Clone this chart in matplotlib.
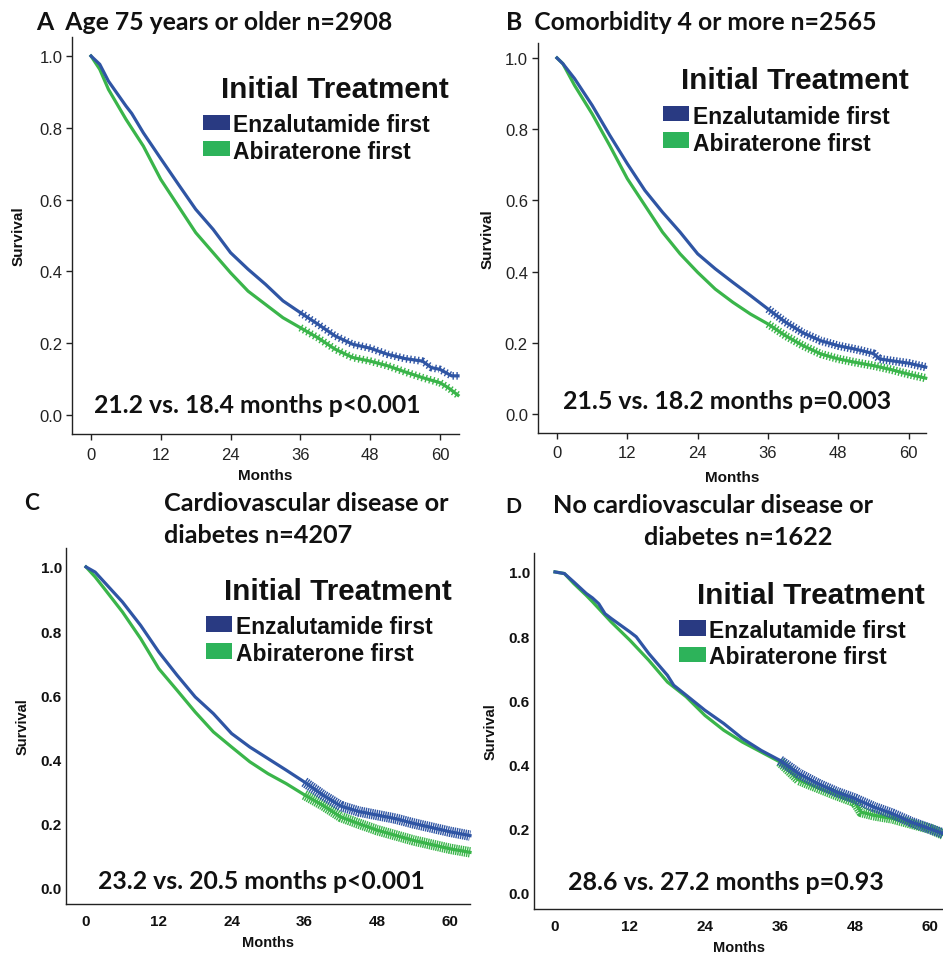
import matplotlib
matplotlib.use("Agg")
import matplotlib.pyplot as plt
from matplotlib.patches import Rectangle
import numpy as np

plt.rcParams["lines.scale_dashes"] = False

W, H, DPI = 943, 954, 100

# ---------------- data ----------------
series_labels = ["Enzalutamide first", "Abiraterone first"]
legend_title = "Initial Treatment"
x_ticks = [0, 12, 24, 36, 48, 60]
y_ticks = [0.0, 0.2, 0.4, 0.6, 0.8, 1.0]

a_enz_months = [0, 1.5, 3, 6, 7, 9, 12, 15, 18, 21, 24, 27, 30, 33, 36, 39, 42, 45, 48, 51, 54, 57, 58.5, 60, 62, 63.1]
a_enz_surv = [1.0, 0.977, 0.930, 0.861, 0.840, 0.786, 0.714, 0.643, 0.573, 0.517, 0.452, 0.406, 0.364, 0.318,
              0.285, 0.253, 0.220, 0.197, 0.186, 0.169, 0.157, 0.150, 0.132, 0.127, 0.109, 0.109]
a_abi_months = [0, 1.5, 3, 6, 9, 12, 15, 18, 21, 24, 27, 30, 33, 36, 39, 42, 45, 48, 51, 54, 57, 60, 61.5, 63.1]
a_abi_surv = [1.0, 0.963, 0.907, 0.824, 0.749, 0.656, 0.582, 0.508, 0.452, 0.396, 0.345, 0.308, 0.271, 0.243,
              0.215, 0.183, 0.160, 0.150, 0.137, 0.120, 0.104, 0.090, 0.075, 0.055]

b_enz_months = [0, 1, 3, 6, 9, 12, 15, 18, 21, 24, 27, 30, 33, 36, 39, 42, 45, 48, 51, 54, 55, 57, 60, 62.9]
b_enz_surv = [1.0, 0.984, 0.942, 0.867, 0.783, 0.703, 0.628, 0.567, 0.511, 0.450, 0.408, 0.370, 0.333, 0.295,
              0.258, 0.228, 0.206, 0.192, 0.182, 0.170, 0.155, 0.150, 0.143, 0.132]
b_abi_months = [0, 1, 3, 6, 9, 12, 15, 18, 21, 24, 27, 30, 33, 36, 39, 42, 45, 48, 51, 54, 57, 60, 62.9]
b_abi_surv = [1.0, 0.984, 0.923, 0.843, 0.754, 0.661, 0.586, 0.511, 0.450, 0.398, 0.351, 0.314, 0.281, 0.253,
              0.220, 0.192, 0.169, 0.155, 0.145, 0.136, 0.125, 0.112, 0.101]

c_enz_months = [0, 1.5, 3, 6, 9, 12, 15, 18, 21, 24, 27, 30, 33, 36, 39, 42, 45, 48, 51, 54, 57, 60, 63.3]
c_enz_surv = [1.0, 0.984, 0.953, 0.891, 0.818, 0.735, 0.663, 0.595, 0.543, 0.481, 0.439, 0.403, 0.367, 0.330,
              0.290, 0.255, 0.238, 0.227, 0.216, 0.201, 0.188, 0.175, 0.163]
c_abi_months = [0, 1.5, 3, 6, 9, 12, 15, 18, 21, 24, 27, 30, 33, 36, 39, 42, 45, 48, 51, 54, 57, 60, 63.3]
c_abi_surv = [1.0, 0.969, 0.933, 0.860, 0.777, 0.683, 0.616, 0.548, 0.486, 0.439, 0.393, 0.356, 0.325, 0.290,
              0.258, 0.221, 0.200, 0.180, 0.164, 0.148, 0.135, 0.122, 0.111]

d_enz_months = [0, 1.5, 3, 5, 6, 7, 8, 9, 12, 13, 15, 18, 19, 21, 24, 27, 30, 33, 36, 39, 42, 45, 48, 51, 54,
                57, 60, 62.1]
d_enz_surv = [1.0, 0.995, 0.969, 0.933, 0.919, 0.901, 0.870, 0.855, 0.813, 0.798, 0.746, 0.678, 0.647, 0.616,
              0.569, 0.528, 0.481, 0.444, 0.413, 0.372, 0.341, 0.315, 0.294, 0.268, 0.247, 0.221, 0.200, 0.185]
d_abi_months = [0, 1.5, 3, 5, 6, 7, 9, 12, 15, 18, 21, 24, 27, 30, 33, 36, 39, 42, 45, 48, 49, 51, 54, 57, 60, 62.1]
d_abi_surv = [1.0, 0.995, 0.964, 0.927, 0.907, 0.886, 0.844, 0.787, 0.725, 0.657, 0.611, 0.553, 0.507, 0.470,
              0.439, 0.408, 0.352, 0.328, 0.305, 0.283, 0.252, 0.242, 0.232, 0.216, 0.200, 0.182]

titles_a = ["A  Age 75 years or older n=2908"]
titles_b = ["B  Comorbidity 4 or more n=2565"]
titles_c = ["Cardiovascular disease or", "diabetes n=4207"]
titles_d = ["No cardiovascular disease or", "diabetes n=1622"]
annot = ["21.2 vs. 18.4 months p<0.001", "21.5 vs. 18.2 months p=0.003",
         "23.2 vs. 20.5 months p<0.001", "28.6 vs. 27.2 months p=0.93"]

# ---------------- style ----------------
BLUE_LINE, GREEN_LINE = "#2F55A4", "#3AB54A"
BLUE_PATCH, GREEN_PATCH = "#293A82", "#2DB35A"
CAL = ["Lato", "DejaVu Sans"]
ARIAL = ["Liberation Sans", "DejaVu Sans"]

fig = plt.figure(figsize=(W / DPI, H / DPI), dpi=DPI)
renderer = fig.canvas.get_renderer()


def fpos(x, y):
    return x / W, 1 - y / H


def fit_text(x, y, s, width, family, size=None, **kw):
    t = fig.text(*fpos(x, y), s, family=family, weight="bold", fontsize=20,
                 ha="left", va="baseline", color="#111111", **kw)
    if size is None:
        w = t.get_window_extent(renderer=renderer).width
        size = 20 * width / w
    t.set_fontsize(size)
    return size


panels = [
    dict(box=(72, 38, 459, 435), xlim=(-3.27, 63.27), ylim=(-0.053, 1.053),
         enz=(a_enz_months, a_enz_surv), abi=(a_abi_months, a_abi_surv),
         bold_ticks=False, ylab_x=19, xlab_y=476, tail=dict(lw=5.5, on=1.0, off=1.8),
         it=(221, 98), enz_txt=(233, 132), abi_txt=(233, 159),
         enz_patch=(203, 116, 230, 131), abi_patch=(203, 142, 230, 157),
         note=(94, 413, 328), note_s=annot[0]),
    dict(box=(537.7, 44, 926, 434), xlim=(-3.29, 62.95), ylim=(-0.053, 1.042),
         enz=(b_enz_months, b_enz_surv), abi=(b_abi_months, b_abi_surv),
         bold_ticks=False, ylab_x=488, xlab_y=478, tail=dict(lw=6.0, on=1.0, off=1.3),
         it=(681, 89), enz_txt=(693, 124), abi_txt=(693, 151),
         enz_patch=(663, 107, 689, 122), abi_patch=(663, 133, 689, 149),
         note=(563, 409, 328), note_s=annot[1]),
    dict(box=(66, 549, 470, 905), xlim=(-3.30, 63.3), ylim=(-0.050, 1.059),
         enz=(c_enz_months, c_enz_surv), abi=(c_abi_months, c_abi_surv),
         bold_ticks=True, ylab_x=22.7, xlab_y=943, tail=dict(lw=7.5, on=1.0, off=0.6),
         it=(224, 600), enz_txt=(236, 634), abi_txt=(236, 661),
         enz_patch=(206, 617, 232, 633), abi_patch=(206, 644, 232, 660),
         note=(98, 889, 328), note_s=annot[2]),
    dict(box=(534, 554, 943, 910), xlim=(-3.36, 62.1), ylim=(-0.050, 1.059),
         enz=(d_enz_months, d_enz_surv), abi=(d_abi_months, d_abi_surv),
         bold_ticks=True, ylab_x=490.7, xlab_y=948, tail=dict(lw=7.5, on=1.0, off=0.6),
         it=(697, 604), enz_txt=(709, 638), abi_txt=(709, 664),
         enz_patch=(679, 621, 706, 637), abi_patch=(679, 648, 706, 663),
         note=(568, 890, 315), note_s=annot[3]),
]

for p in panels:
    l, t, r, b = p["box"]
    ax = fig.add_axes([l / W, 1 - b / H, (r - l) / W, (b - t) / H])
    ax.set_xlim(*p["xlim"])
    ax.set_ylim(*p["ylim"])
    for side in ("top", "right"):
        ax.spines[side].set_visible(False)
    for side in ("left", "bottom"):
        ax.spines[side].set_linewidth(1.0)
        ax.spines[side].set_color("#222222")
    ax.set_xticks(x_ticks)
    ax.set_yticks(y_ticks)
    ax.set_yticklabels([f"{v:.1f}" for v in y_ticks])
    ax.set_xticklabels([str(v) for v in x_ticks])
    if p["bold_ticks"]:
        ax.tick_params(length=0, labelsize=11, colors="#111111")
        ax.tick_params(axis="y", pad=3)
        ax.tick_params(axis="x", pad=7)
        for lab in ax.get_xticklabels() + ax.get_yticklabels():
            lab.set_family(ARIAL)
            lab.set_weight("bold")
        lab_size = 10.5
    else:
        ax.tick_params(length=4, width=1.0, labelsize=12, colors="#222222", direction="out")
        ax.tick_params(axis="y", pad=3)
        ax.tick_params(axis="x", pad=5)
        for lab in ax.get_xticklabels() + ax.get_yticklabels():
            lab.set_family(ARIAL)
        lab_size = 11
    ax.set_ylabel("Survival", family=ARIAL, weight="bold", fontsize=lab_size, color="#111111")
    ax.set_xlabel("Months", family=ARIAL, weight="bold", fontsize=lab_size, color="#111111")
    ax.yaxis.set_label_coords((p["ylab_x"] - l) / (r - l), 0.5)
    ax.yaxis.label.set_va("center")
    ax.xaxis.set_label_coords(0.5, (b - p["xlab_y"]) / (b - t))
    ax.xaxis.label.set_va("center")

    for key, col in (("abi", GREEN_LINE), ("enz", BLUE_LINE)):
        m, s = np.asarray(p[key][0]), np.asarray(p[key][1])
        ax.plot(m, s, color=col, lw=2.3, solid_joinstyle="round", clip_on=False)
        mask = m >= 35
        tl = p["tail"]
        ln, = ax.plot(m[mask], s[mask], color=col, lw=tl["lw"], clip_on=False,
                      dash_capstyle="butt")
        ln.set_dashes((tl["on"], tl["off"]))

    # legend
    fit_text(p["it"][0], p["it"][1], legend_title, 227, ARIAL)
    for (x0, y0, x1, y1), col in ((p["enz_patch"], BLUE_PATCH), (p["abi_patch"], GREEN_PATCH)):
        fig.add_artist(Rectangle(fpos(x0, y1), (x1 - x0) / W, (y1 - y0) / H,
                                 transform=fig.transFigure, facecolor=col, edgecolor="none"))
    fit_text(p["enz_txt"][0], p["enz_txt"][1], series_labels[0], 197, ARIAL)
    fit_text(p["abi_txt"][0], p["abi_txt"][1], series_labels[1], None, ARIAL,
             size=fig.texts[-1].get_fontsize())
    # annotation
    nx, ny, nw = p["note"]
    fit_text(nx, ny, p["note_s"], nw, CAL)

# titles
fit_text(36, 30, titles_a[0], 356, CAL)
fit_text(506, 30, titles_b[0], 371, CAL)
fit_text(24, 510, "C", 15, CAL)
sz = fit_text(164, 511, titles_c[0], 285, CAL)
fit_text(164, 543, titles_c[1], None, CAL, size=sz)
fit_text(505, 513, "D", 16, CAL)
sz = fit_text(553, 513, titles_d[0], 320, CAL)
fit_text(644, 545, titles_d[1], None, CAL, size=sz)

fig.savefig("out.png", dpi=DPI)
